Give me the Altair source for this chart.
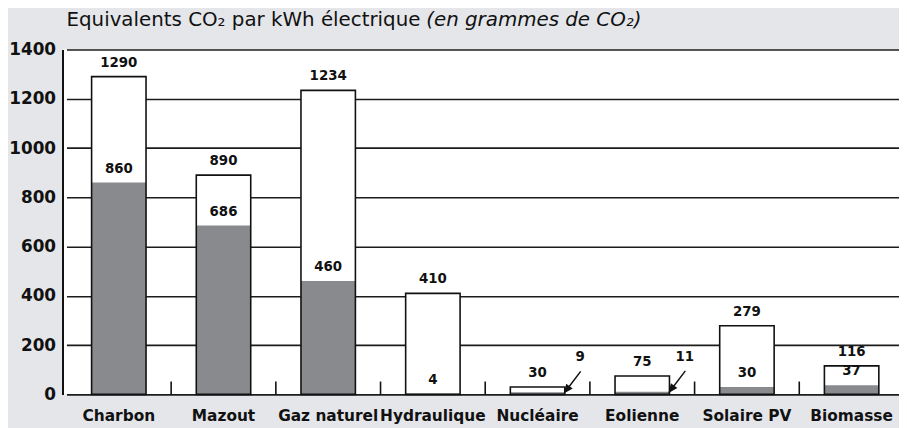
import altair as alt
import pandas as pd

categories = ["Charbon", "Mazout", "Gaz naturel", "Hydraulique",
              "Nucléaire", "Eolienne", "Solaire PV", "Biomasse"]
totals = [1290, 890, 1234, 410, 30, 75, 279, 116]
lowers = [860, 686, 460, 4, 9, 11, 30, 37]
arrow_cats = ["Nucléaire", "Eolienne"]
y_ticks = [0, 200, 400, 600, 800, 1000, 1200, 1400]
title_main = "Equivalents CO\u2082 par kWh électrique"
title_italic = "(en grammes de CO\u2082)"

df = pd.DataFrame({"cat": categories, "total": totals, "lower": lowers})
df["arrow"] = df["cat"].isin(arrow_cats)
df["first"] = df["cat"] == categories[0]

FONT = "DejaVu Sans"
INK = "#111111"
BAR_W = alt.RelativeBandSize(0.52)

xscale = alt.Scale(range=[4, 849], paddingInner=0, paddingOuter=0)
xaxis = alt.Axis(title=None, labelAngle=0, domain=False, ticks=False, tickSize=0,
                 labelPadding=14, labelFont=FONT, labelFontSize=15.5,
                 labelFontWeight="bold", labelColor=INK)


def X(band=0.5):
    return alt.X("cat:N", sort=categories, scale=xscale, axis=xaxis, bandPosition=band)


yscale = alt.Scale(domain=[0, 1400], nice=False)
yaxis = alt.Axis(values=y_ticks, format="d", title=None, grid=True, gridColor="#1c1c1c",
                 gridWidth=1.6, gridOpacity=1, domain=True, domainColor=INK,
                 domainWidth=2, ticks=False, tickSize=0, labelPadding=7,
                 labelFont=FONT, labelFontSize=17, labelFontWeight="bold",
                 labelColor=INK)

base = alt.Chart(df)

bar_white = base.mark_bar(fill="white", width=BAR_W).encode(
    x=X(), y=alt.Y("total:Q", scale=yscale, axis=yaxis))
bar_gray = base.mark_bar(fill="#898a8e", width=BAR_W).encode(
    x=X(), y=alt.Y("lower:Q", scale=yscale, axis=yaxis))
outline = base.mark_bar(fillOpacity=0, stroke=INK, strokeWidth=1.6, width=BAR_W).encode(
    x=X(), y=alt.Y("total:Q", scale=yscale, axis=yaxis))

lbl = dict(font=FONT, fontSize=13.5, fontWeight="bold", color=INK, baseline="middle")
total_txt = base.mark_text(dy=-14, **lbl).encode(
    x=X(), y=alt.Y("total:Q", scale=yscale, axis=yaxis), text="total:Q")
lower_txt = base.transform_filter("!datum.arrow").mark_text(dy=-14, **lbl).encode(
    x=X(), y=alt.Y("lower:Q", scale=yscale, axis=yaxis), text="lower:Q")
arrow_txt = base.transform_filter("datum.arrow").mark_text(dx=43, dy=-35, **lbl).encode(
    x=X(), y=alt.Y("lower:Q", scale=yscale, axis=yaxis), text="lower:Q")

arrow_path = "M-0.57,0.75L0.57,-0.75M-0.57,0.75L-0.1,0.479L-0.434,0.225Z"
arrows = base.transform_filter("datum.arrow").mark_point(
    shape=arrow_path, size=784, filled=True, fill=INK, stroke=INK, strokeWidth=1.5,
    opacity=1, xOffset=35.5, yOffset=-10.5).encode(
    x=X(), y=alt.Y("lower:Q", scale=yscale, axis=yaxis))

ticks = base.transform_filter("!datum.first").mark_rule(
    color=INK, strokeWidth=1.6, y2Offset=-13).encode(
    x=X(0), y=alt.datum(0, scale=yscale), y2=alt.datum(0))

title_df = pd.DataFrame({"a": [title_main], "b": [title_italic]})
t1 = alt.Chart(title_df).mark_text(font=FONT, fontSize=20, color=INK, align="left",
                                   baseline="middle").encode(
    x=alt.value(4), y=alt.value(-30), text="a:N")
t2 = alt.Chart(title_df).mark_text(font=FONT, fontSize=20, fontStyle="italic", color=INK,
                                   align="left", baseline="middle").encode(
    x=alt.value(367), y=alt.value(-30), text="b:N")

chart = alt.layer(bar_white, bar_gray, outline, ticks, total_txt, lower_txt, arrow_txt,
                  arrows, t1, t2).properties(
    width=844, height=348,
    padding={"left": 55, "top": 40, "right": 0, "bottom": 32},
    autosize=alt.AutoSizeParams(type="none"),
    background="#e4e6ea",
).configure_view(fill="white", strokeWidth=0)

chart.save("out.html", embed_options={"renderer": "svg", "actions": False})
